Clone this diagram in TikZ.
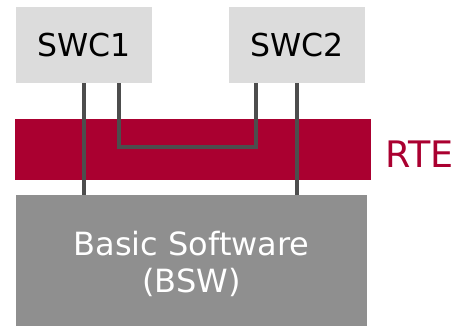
\documentclass[tikz,border=0pt]{standalone}
\usepackage{fontspec}
\setmainfont{DejaVu Sans}
\usetikzlibrary{positioning}
\definecolor{swcgray}{HTML}{DCDCDC}
\definecolor{rtered}{HTML}{AA0030}
\definecolor{bswgray}{HTML}{8F8F8F}
\definecolor{linkgray}{HTML}{4D4D4D}
\tikzset{
  swcbox/.style={fill=swcgray, minimum width=136pt, minimum height=76pt, inner sep=0pt,
    font=\fontsize{31.5}{36}\selectfont},
  link/.style={draw=linkgray, line width=3.5pt},
}

\begin{document}
\begin{tikzpicture}[x=1pt,y=-1pt]
  \useasboundingbox (0,0) rectangle (458,325);
  % software components
  \node[swcbox] (swcA) at (84,45) {SWC1};
  \node[swcbox] (swcB) at (297,45) {SWC2};
  % runtime environment
  \node[fill=rtered, minimum width=356pt, minimum height=61pt, inner sep=0pt] (rte) at (193,149.5) {};
  \node[text=rtered, anchor=base west, inner sep=0pt, font=\fontsize{36.5}{40}\selectfont] (rtelabel) at (385.5,167) {RTE};
  % basic software
  \node[fill=bswgray, minimum width=351pt, minimum height=138pt, inner sep=0pt, align=center,
    text=white, font=\fontsize{32}{37}\selectfont] (bsw) at (191.5,264) {Basic Software\\(BSW)};
  % connections
  \draw[link] (swcA.south) -- (swcA.south |- bsw.north);
  \draw[link] ([xshift=35pt]swcA.south) |- ([yshift=2.5pt]rte.center) -| ([xshift=-41pt]swcB.south);
  \draw[link] (swcB.south) -- (swcB.south |- bsw.north);
\end{tikzpicture}
\end{document}
